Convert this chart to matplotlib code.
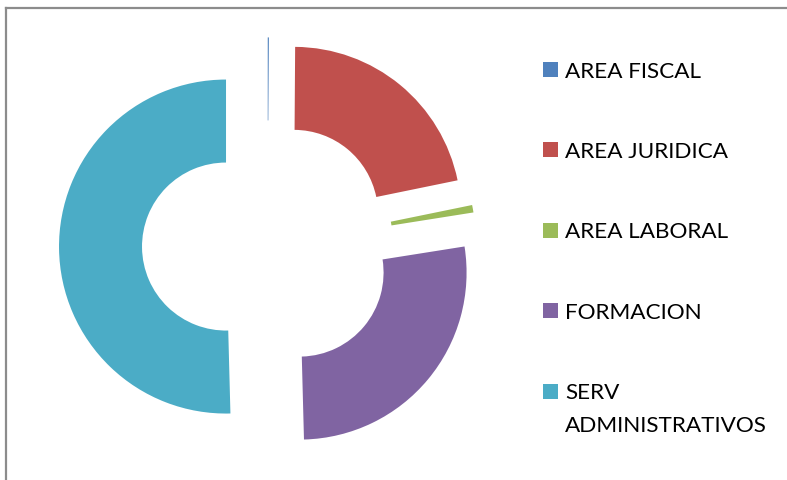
import matplotlib
matplotlib.use("Agg")
import matplotlib.pyplot as plt
from matplotlib.lines import Line2D
from matplotlib.patches import Rectangle

# datos (porcentaje aproximado)
areas = ["AREA FISCAL", "AREA JURIDICA", "AREA LABORAL", "FORMACION", "SERV\nADMINISTRATIVOS"]
valores = [0.11, 21.67, 0.72, 27.08, 50.42]
colores = ["#4F81BD", "#C0504D", "#9BBB59", "#8064A2", "#4BACC6"]

W, H = 787, 481
fig = plt.figure(figsize=(W / 100, H / 100), dpi=100)
ax = fig.add_axes([0, 0, 1, 1])

ax.pie(valores, colors=colores, startangle=90, counterclock=False,
       explode=[0.249] * len(valores), radius=1,
       wedgeprops=dict(width=0.497, linewidth=0))

# centro en (267.6, 247) px, radio 167 px
r = 167
cx, cy = 267.6, 247
ax.set_xlim(-cx / r, (W - cx) / r)
ax.set_ylim(-(H - cy) / r, cy / r)
ax.set_aspect("auto")
ax.axis("off")

# borde gris arriba e izquierda
fig.add_artist(Line2D([5.5 / W, 5.5 / W], [0, 1 - 8.5 / H], transform=fig.transFigure,
                      color="#8c8c8c", lw=1.6))
fig.add_artist(Line2D([5.5 / W, 1], [1 - 8.5 / H, 1 - 8.5 / H], transform=fig.transFigure,
                      color="#8c8c8c", lw=1.6))

# leyenda
y0, paso = 70.5, 80.4
for i, (nombre, col) in enumerate(zip(areas, colores)):
    y = y0 + i * paso
    fig.add_artist(Rectangle((542.7 / W, 1 - (y + 7.5) / H), 15 / W, 15 / H,
                             transform=fig.transFigure, color=col, lw=0))
    for k, linea in enumerate(nombre.split("\n")):
        fig.text(565 / W, 1 - (y + 1 + k * 33) / H, linea, fontsize=16.2, family="Lato",
                 va="center", ha="left", color="black")

fig.savefig("out.png", dpi=100)
